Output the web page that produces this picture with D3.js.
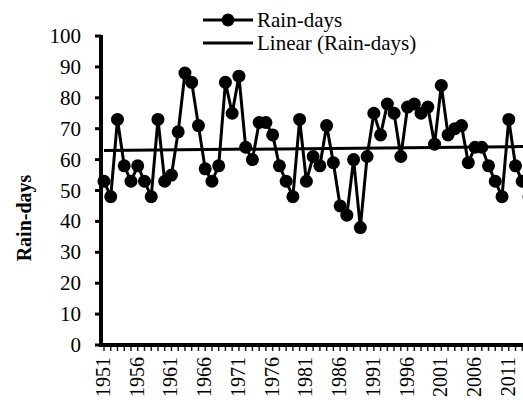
<!DOCTYPE html>
<html><head><meta charset="utf-8"><script src="https://cdn.jsdelivr.net/npm/d3@7"></script></head>
<body style="margin:0">
<svg width="523" height="406"></svg>
<script>
// years and rain-days
var years = d3.range(1951, 2015);
var rainDays = [
  53, 48, 73, 58, 53, 58, 53, 48, 73, 53,
  55, 69, 88, 85, 71, 57, 53, 58, 85, 75,
  87, 64, 60, 72, 72, 68, 58, 53, 48, 73,
  53, 61, 58, 71, 59, 45, 42, 60, 38, 61,
  75, 68, 78, 75, 61, 77, 78, 75, 77, 65,
  84, 68, 70, 71, 59, 64, 64, 58, 53, 48,
  73, 58, 53, 48
];
var yTicks = [0, 10, 20, 30, 40, 50, 60, 70, 80, 90, 100];
var labelYears = years.filter(function(y) { return (y - 1951) % 5 === 0; });

var font = "Liberation Serif";

var svg = d3.select("svg");

var x = d3.scaleLinear().domain([1951, 2014]).range([104, 529]);
var y = d3.scaleLinear().domain([0, 100]).range([345, 36]);

var data = years.map(function(yr, i) { return {year: yr, value: rainDays[i]}; });

// least squares trend
var mx = d3.mean(years),
    my = d3.mean(rainDays);
var slope = d3.sum(data, function(d) { return (d.year - mx) * (d.value - my); }) /
            d3.sum(data, function(d) { return (d.year - mx) * (d.year - mx); });
var intercept = my - slope * mx;
var trend = [1951, 2014].map(function(yr) { return {year: yr, value: intercept + slope * yr}; });

// y axis ticks and labels
svg.append("g")
  .selectAll("line")
  .data(yTicks)
  .enter().append("line")
    .attr("x1", 95).attr("x2", 101)
    .attr("y1", function(d) { return y(d); })
    .attr("y2", function(d) { return y(d); })
    .attr("stroke", "#000").attr("stroke-width", 3);

svg.append("g")
  .selectAll("text")
  .data(yTicks)
  .enter().append("text")
    .attr("x", 81)
    .attr("y", function(d) { return y(d) + 7; })
    .attr("text-anchor", "end")
    .attr("font-family", font)
    .attr("font-size", 21)
    .text(function(d) { return d; });

svg.append("line")
    .attr("x1", 101).attr("x2", 101)
    .attr("y1", y(100) - 1).attr("y2", y(0) + 2)
    .attr("stroke", "#000").attr("stroke-width", 4);

// x axis ticks and labels
svg.append("g")
  .selectAll("line")
  .data(years)
  .enter().append("line")
    .attr("x1", function(d) { return x(d); })
    .attr("x2", function(d) { return x(d); })
    .attr("y1", 347).attr("y2", 351)
    .attr("stroke", "#222").attr("stroke-width", 1.5);

svg.append("line")
    .attr("x1", 99).attr("x2", 530)
    .attr("y1", y(0)).attr("y2", y(0))
    .attr("stroke", "#000").attr("stroke-width", 4);

svg.append("g")
  .selectAll("text")
  .data(labelYears)
  .enter().append("text")
    .attr("transform", function(d) { return "translate(" + (x(d) + 6) + ",357) rotate(-90)"; })
    .attr("text-anchor", "end")
    .attr("font-family", font)
    .attr("font-size", 20)
    .text(function(d) { return d; });

// axis title
svg.append("text")
    .attr("transform", "translate(31,218) rotate(-90)")
    .attr("text-anchor", "middle")
    .attr("font-family", font)
    .attr("font-size", 20)
    .attr("font-weight", "bold")
    .text("Rain-days");

// trend line
var line = d3.line()
    .x(function(d) { return x(d.year); })
    .y(function(d) { return y(d.value); });

svg.append("path")
    .datum(trend)
    .attr("d", line)
    .attr("fill", "none")
    .attr("stroke", "#000")
    .attr("stroke-width", 3);

// series
svg.append("path")
    .datum(data)
    .attr("d", line)
    .attr("fill", "none")
    .attr("stroke", "#000")
    .attr("stroke-width", 3)
    .attr("stroke-linejoin", "round");

svg.append("g")
  .selectAll("circle")
  .data(data)
  .enter().append("circle")
    .attr("cx", function(d) { return x(d.year); })
    .attr("cy", function(d) { return y(d.value); })
    .attr("r", 6.5)
    .attr("fill", "#000");

// legend
svg.append("line")
    .attr("x1", 203).attr("x2", 253).attr("y1", 20).attr("y2", 20)
    .attr("stroke", "#000").attr("stroke-width", 3);
svg.append("circle")
    .attr("cx", 228).attr("cy", 20).attr("r", 6.5).attr("fill", "#000");
svg.append("text")
    .attr("x", 257).attr("y", 27)
    .attr("font-family", font)
    .attr("font-size", 21)
    .text("Rain-days");
svg.append("line")
    .attr("x1", 203).attr("x2", 253).attr("y1", 43).attr("y2", 43)
    .attr("stroke", "#000").attr("stroke-width", 3);
svg.append("text")
    .attr("x", 257).attr("y", 50)
    .attr("font-family", font)
    .attr("font-size", 21)
    .text("Linear (Rain-days)");
</script>
</body></html>
